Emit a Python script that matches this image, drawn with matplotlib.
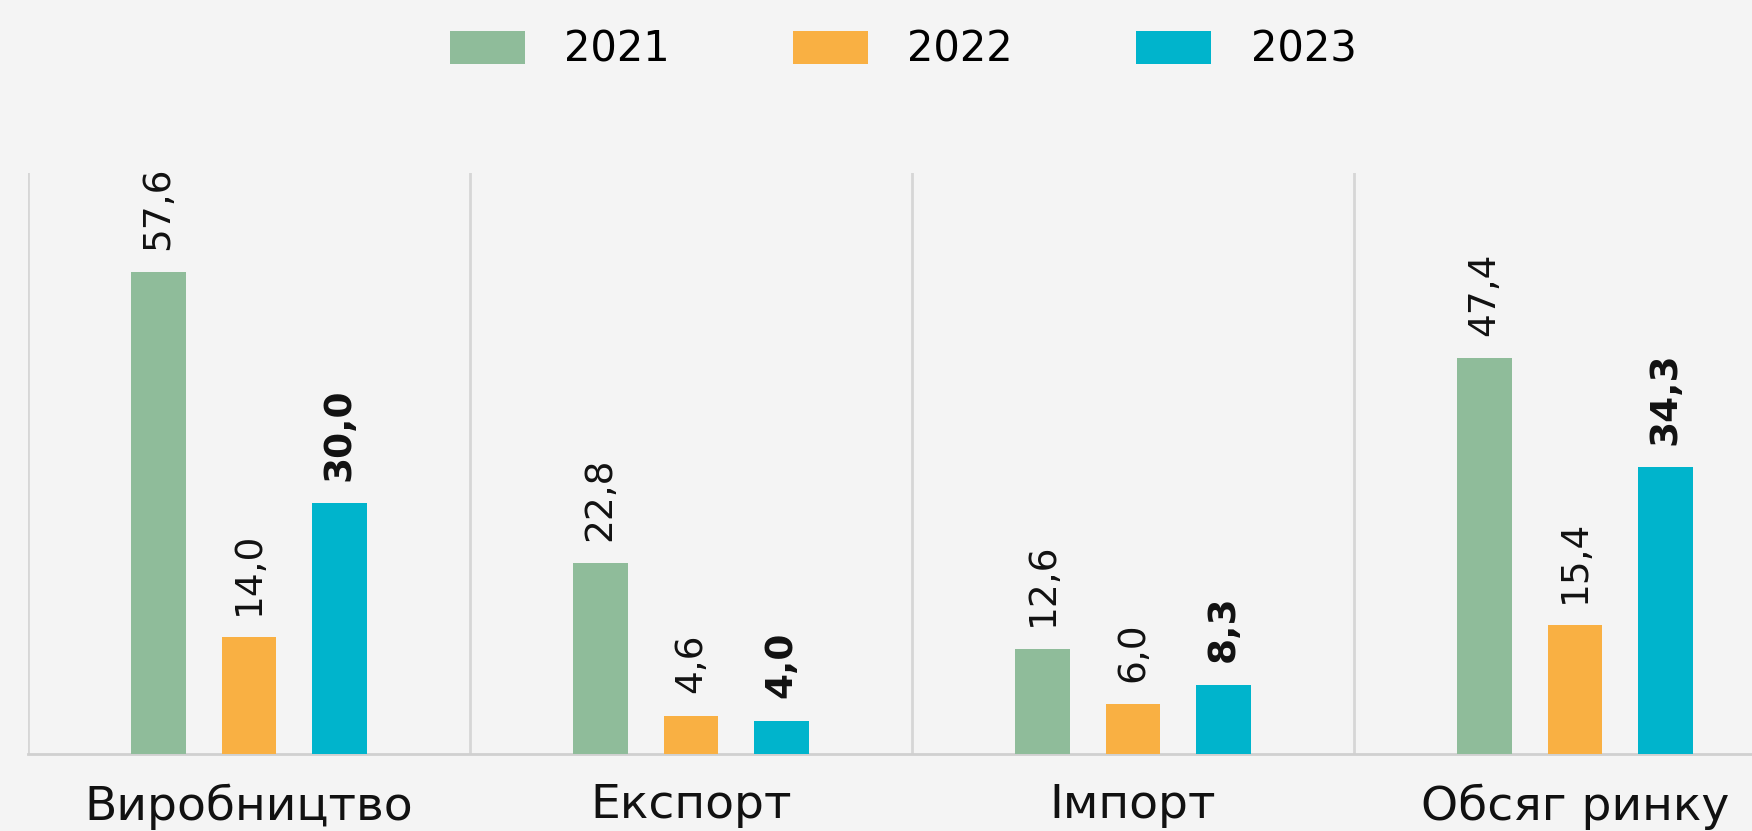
import matplotlib
matplotlib.use("Agg")
import matplotlib.pyplot as plt
import numpy as np

categories = ["Виробництво", "Експорт", "Імпорт", "Обсяг ринку"]
years = ["2021", "2022", "2023"]
values_2021 = [57.6, 22.8, 12.6, 47.4]
values_2022 = [14.0, 4.6, 6.0, 15.4]
values_2023 = [30.0, 4.0, 8.3, 34.3]
series = [values_2021, values_2022, values_2023]
colors = ["#8fbc9a", "#f9b043", "#00b4cc"]
bold = [False, False, True]

plt.rcParams["font.family"] = ["DejaVu Sans"]
bg = "#f4f4f4"
fig = plt.figure(figsize=(17.52, 8.31), dpi=100, facecolor=bg)
W, H = 1752, 831
ax = fig.add_axes([28 / W, 77 / H, 4 * 442 / W, 581 / H])
ax.set_facecolor(bg)

x = np.arange(len(categories))
offsets = [-0.205, 0.0, 0.205]
bw = 0.124
handles = []
for i, (vals, col, off) in enumerate(zip(series, colors, offsets)):
    bars = ax.bar(x + off, vals, width=bw, color=col, label=years[i], zorder=3)
    handles.append(bars)
    for xi, v in zip(x + off, vals):
        ax.annotate(f"{v:.1f}".replace(".", ","), (xi, v), xytext=(0, 16),
                    textcoords="offset points", rotation=90, ha="center", va="bottom",
                    fontsize=27, fontweight="bold" if bold[i] else "normal", color="#111111")

ax.set_xlim(-0.5, 3.5)
ax.set_ylim(0, 69.5)
ax.set_xticks(x)
ax.set_xticklabels(categories, fontsize=34, color="#111111")
ax.tick_params(axis="x", length=0, pad=21)
ax.set_xticks([-0.5, 0.5, 1.5, 2.5, 3.5], minor=True)
ax.tick_params(axis="x", which="minor", length=0)
ax.grid(axis="x", which="minor", color="#d6d6d6", linewidth=2, zorder=1)
ax.set_yticks([])
for s in ["top", "right", "left"]:
    ax.spines[s].set_visible(False)
ax.spines["bottom"].set_color("#d0d0d0")
ax.spines["bottom"].set_linewidth(2)

fig.legend(handles=handles, labels=years, loc="center", bbox_to_anchor=(903 / W, 1 - 50 / H),
           ncol=3, frameon=False, fontsize=30, handlelength=1.8, handleheight=0.85,
           handletextpad=0.95, columnspacing=2.95)

fig.savefig("out.png", dpi=100, facecolor=bg)
